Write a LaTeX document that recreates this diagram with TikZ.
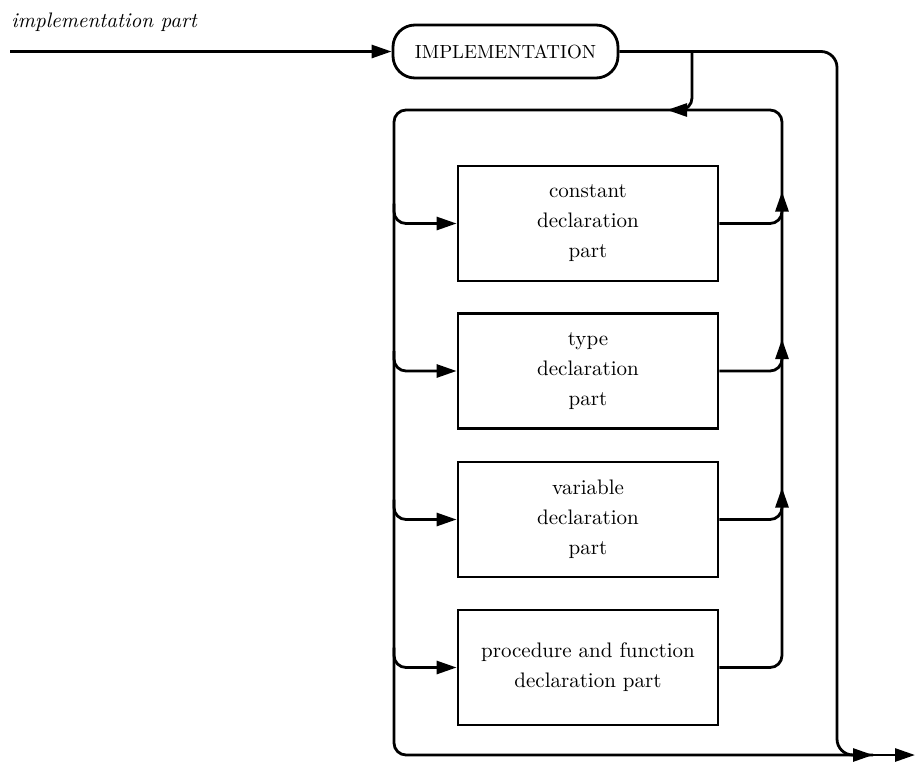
\documentclass[tikz,border=0pt]{standalone}
\usetikzlibrary{calc, arrows.meta}

\begin{document}
\begin{tikzpicture}[x=0.5pt,y=-0.5pt,line width=1.4pt,
    flow/.style={-{Triangle[length=10pt,width=6.5pt]}},
    keyword/.style={draw,rounded corners=11pt,minimum width=112.5pt,minimum height=26.5pt,
      inner sep=0pt,font=\fontsize{9.5}{11}\selectfont},
    part/.style={draw,minimum width=130pt,minimum height=57.5pt,align=center,
      inner sep=0pt,font=\fontsize{10.5}{15}\selectfont}]
      \useasboundingbox (0,0) rectangle (916,761);

      \node[anchor=west,inner sep=0pt,font=\fontsize{10.5}{12}\selectfont\itshape] (title) at (10,22) {implementation part};
      \node[keyword] (impl) at (505.5,51.5) {IMPLEMENTATION};

      % the four declaration parts
      \node[part] (const) at (588,223.5) {constant\\declaration\\part};
      \node[part] (type) at (588,371) {type\\declaration\\part};
      \node[part] (var) at (588,519.5) {variable\\declaration\\part};
      \node[part] (proc) at (588,667.5) {procedure and function\\declaration part};

      % corners of the loop and the way out
      \coordinate (tr) at (782,110);
      \coordinate (tl) at (394,110);
      \coordinate (bl) at (394,755);
      \coordinate (fork) at (692,51.5);
      \coordinate (out) at (873,755);
      \coordinate (stop) at (915,755);

      \draw[flow] (title.west |- impl.west) -- (impl.west);

      % past the parts, or into the loop
      \draw[flow,rounded corners=8pt] (impl.east) -| ($(out)+(-36,0)$) -- (out);
      \draw[flow,rounded corners=6pt] (fork) |- ($(tl)+(273,0)$);
      \draw[flow] (out) -- (stop);

      \draw[rounded corners=6pt] (proc.east) -| (tr) -- (tl) -- (bl) -- (out);

      \foreach \b in {const,type,var,proc}
        \draw[flow,rounded corners=6pt] ($(tl |- \b.west)+(0,-20)$) |- (\b.west);
      \foreach \b in {const,type,var}
        \draw[flow,rounded corners=6pt] (\b.east) -| ($(tr |- \b.east)+(0,-32)$);
\end{tikzpicture}
\end{document}
